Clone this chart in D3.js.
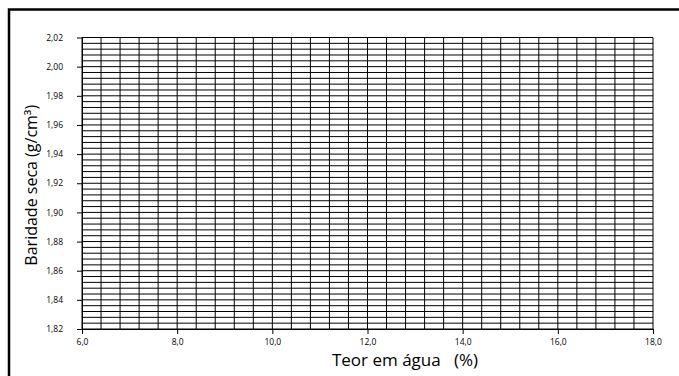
<!DOCTYPE html>
<html>
<head>
<meta charset="utf-8">
<script src="https://cdnjs.cloudflare.com/ajax/libs/d3/7.8.5/d3.min.js"></script>
<style>
  body { margin: 0; background: #fff; }
  svg { display: block; }
  .axis text { font-family: "Open Sans", sans-serif; font-size: 8.5px; fill: #000; }
  .axis path, .axis line { stroke: #000; }
  .title { font-family: "Open Sans", sans-serif; fill: #000; }
</style>
</head>
<body>
<div id="chart"></div>
<script>
// axis ranges and tick values
const xDomain = [6, 18];
const yDomain = [1.82, 2.02];
const xTicks = [6, 8, 10, 12, 14, 16, 18];
const yTicks = [1.82, 1.84, 1.86, 1.88, 1.90, 1.92, 1.94, 1.96, 1.98, 2.00, 2.02];
const xMinorStep = 0.4;
const yMinorStep = 0.004;
const xTitle = "Teor em água\u00a0\u00a0\u00a0(%)";
const yTitle = "Baridade seca (g/cm³)";

const trueWidth = 679, trueHeight = 376;
const margin = {top: 37.5, right: 26, bottom: 47, left: 82};
const width = trueWidth - margin.left - margin.right;
const height = trueHeight - margin.top - margin.bottom;

const locale = d3.formatLocale({decimal: ",", thousands: ".", grouping: [3], currency: ["", "€"]});

const root = d3.select("#chart").append("svg")
  .attr("width", trueWidth)
  .attr("height", trueHeight);

// outer frame (cropped on the right and bottom)
root.append("rect")
  .attr("x", 9).attr("y", 9.5)
  .attr("width", 720).attr("height", 420)
  .attr("fill", "none")
  .attr("stroke", "#000")
  .attr("stroke-width", 2.5);

const svg = root.append("g")
  .attr("transform", "translate(" + margin.left + "," + margin.top + ")");

const x = d3.scaleLinear().domain(xDomain).range([0, width]);
const y = d3.scaleLinear().domain(yDomain).range([height, 0]);

const xGrid = d3.range(xDomain[0], xDomain[1] + xMinorStep / 2, xMinorStep);
const yGrid = d3.range(yDomain[0], yDomain[1] + yMinorStep / 2, yMinorStep);

// grid
svg.append("g").selectAll("line")
  .data(yGrid)
  .join("line")
    .attr("x1", 0).attr("x2", width)
    .attr("y1", d => y(d)).attr("y2", d => y(d))
    .attr("stroke", "#000").attr("stroke-width", 1);

svg.append("g").selectAll("line")
  .data(xGrid)
  .join("line")
    .attr("x1", d => x(d)).attr("x2", d => x(d))
    .attr("y1", 0).attr("y2", height)
    .attr("stroke", "#000").attr("stroke-width", 1);

const xAxis = d3.axisBottom(x).tickValues(xTicks).tickSize(5).tickSizeOuter(0)
  .tickPadding(5).tickFormat(locale.format(".1f"));
const yAxis = d3.axisLeft(y).tickValues(yTicks).tickSize(5).tickSizeOuter(0)
  .tickPadding(14).tickFormat(locale.format(".2f"));

svg.append("g")
  .attr("class", "x axis")
  .attr("transform", "translate(0," + height + ")")
  .call(xAxis);

svg.append("g")
  .attr("class", "y axis")
  .call(yAxis);

// titles
root.append("text")
  .attr("class", "title")
  .attr("x", 405).attr("y", 366)
  .attr("text-anchor", "middle")
  .style("font-size", "17px")
  .text(xTitle);

root.append("text")
  .attr("class", "title")
  .attr("transform", "translate(37," + (margin.top + height / 2 + 2) + ") rotate(-90)")
  .attr("text-anchor", "middle")
  .style("font-size", "16px")
  .text(yTitle);
</script>
</body>
</html>
